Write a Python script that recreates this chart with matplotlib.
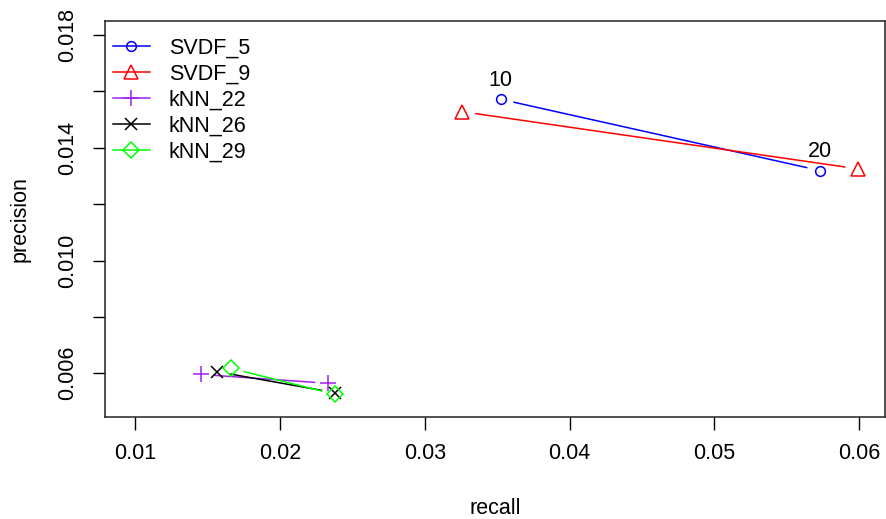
import matplotlib
matplotlib.use("Agg")
import matplotlib.pyplot as plt
import numpy as np

plt.rcParams['font.family'] = ['Liberation Sans', 'DejaVu Sans']

series_names = ["SVDF_5", "SVDF_9", "kNN_22", "kNN_26", "kNN_29"]
recall = {
    "SVDF_5": [0.03524, 0.05729],
    "SVDF_9": [0.03259, 0.05993],
    "kNN_22": [0.01454, 0.02334],
    "kNN_26": [0.01568, 0.02381],
    "kNN_29": [0.01661, 0.02381],
}
precision = {
    "SVDF_5": [0.01572, 0.01319],
    "SVDF_9": [0.01528, 0.01325],
    "kNN_22": [0.00596, 0.005645],
    "kNN_26": [0.006056, 0.005311],
    "kNN_29": [0.006177, 0.005254],
}
point_labels = ["10", "20"]
xticks = [0.01, 0.02, 0.03, 0.04, 0.05, 0.06]
xtick_labels = ["0.01", "0.02", "0.03", "0.04", "0.05", "0.06"]
yticks = [0.006, 0.008, 0.010, 0.012, 0.014, 0.016, 0.018]
ytick_labels = ["0.006", "", "0.010", "", "0.014", "", "0.018"]

styles = {
    "SVDF_5": dict(color="#0000FF", marker="o", ms=7, mfc="none", mew=1.1),
    "SVDF_9": dict(color="#FF0000", marker="^", ms=10, mfc="none", mew=1.1),
    "kNN_22": dict(color="#A020F0", marker="+", ms=12, mfc="none", mew=1.1),
    "kNN_26": dict(color="#000000", marker="x", ms=8, mfc="none", mew=1.1),
    "kNN_29": dict(color="#00FF00", marker="D", ms=8, mfc="none", mew=1.1),
}

FS = 15.5

fig = plt.figure(figsize=(8.87, 5.19), dpi=100)
ax = fig.add_axes([105/887, 1 - 417/519, 780/887, (417 - 20.7)/519])
ax.set_xlim(0.00793, 0.06177)
ax.set_ylim(0.00445, 0.018507)
fig.canvas.draw()

gap = 13.0  # pixels gap between marker and line (R type="b")
trans = ax.transData
inv = trans.inverted()
for name in series_names:
    st = styles[name]
    xs = recall[name]
    ys = precision[name]
    pts = trans.transform(np.column_stack([xs, ys]))
    for i in range(len(pts) - 1):
        p0, p1 = pts[i], pts[i + 1]
        d = p1 - p0
        L = np.hypot(*d)
        u = d / L
        q0 = p0 + u * gap
        q1 = p1 - u * gap
        seg = inv.transform(np.vstack([q0, q1]))
        ax.plot(seg[:, 0], seg[:, 1], color=st["color"], lw=1.1, solid_capstyle="butt")
    ax.plot(xs, ys, linestyle="none", marker=st["marker"], ms=st["ms"],
            mfc=st["mfc"], mec=st["color"], mew=st["mew"])
    # legend handle
    ax.plot([], [], color=st["color"], lw=1.1, marker=st["marker"], ms=st["ms"],
            mfc="none", mec=st["color"], mew=st["mew"], label=name)

for lbl, x, y in zip(point_labels, recall["SVDF_5"], precision["SVDF_5"]):
    ax.annotate(lbl, (x, y), xytext=(0, 6), textcoords="offset points",
                ha="center", va="bottom", fontsize=FS)

ax.set_xticks(xticks)
ax.set_xticklabels(xtick_labels)
ax.set_yticks(yticks)
ax.set_yticklabels(ytick_labels, rotation=90, va="center")
ax.tick_params(axis="both", direction="out", length=9, width=1, labelsize=FS, pad=10)
for sp in ax.spines.values():
    sp.set_linewidth(1.1)
    sp.set_color("#222222")

ax.set_xlabel("recall", fontsize=FS)
ax.set_ylabel("precision", fontsize=FS)
ax.xaxis.set_label_coords(0.5, -0.23)
ax.xaxis.label.set_va("center")
ax.yaxis.set_label_coords((20 - 105) / 780, 0.5)
ax.yaxis.label.set_va("center")

leg = ax.legend(loc="upper left", bbox_to_anchor=(-0.0095, 0.996), frameon=False,
                fontsize=FS, handlelength=1.75, handletextpad=0.85,
                labelspacing=0.24, borderaxespad=0.3)

fig.savefig("out.png", dpi=100)
